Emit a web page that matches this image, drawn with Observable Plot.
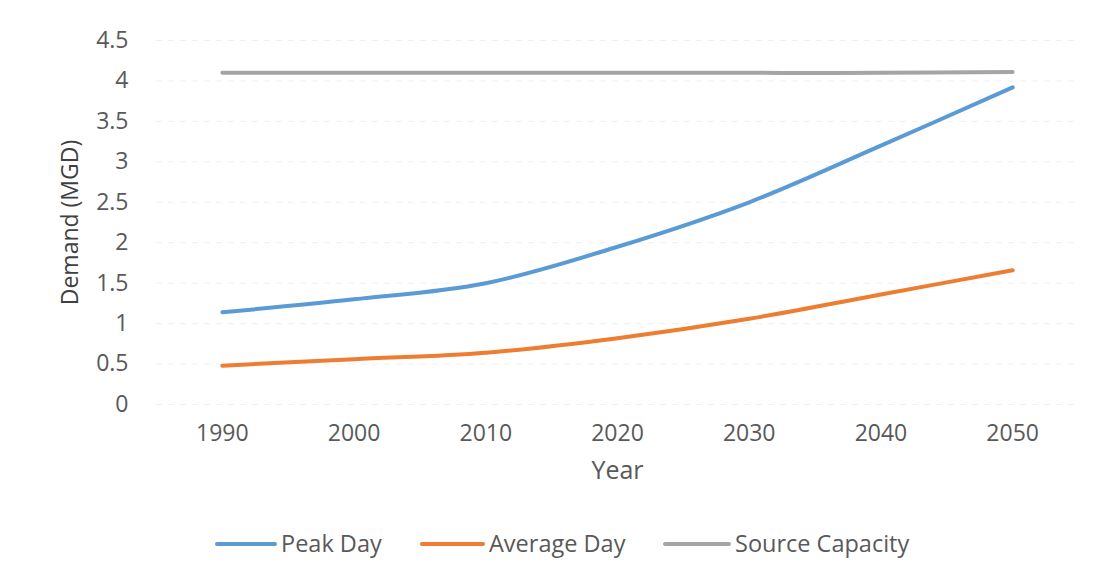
<!DOCTYPE html>
<html>
<head>
<meta charset="utf-8">
<script src="https://cdn.jsdelivr.net/npm/d3@7"></script>
<script src="https://cdn.jsdelivr.net/npm/@observablehq/plot@0.6"></script>
<style>
  body { margin: 0; background: #fff; font-family: "Open Sans", "Noto Sans", sans-serif; }
  #wrap { position: relative; width: 1099px; height: 575px; }
  #legend { position: absolute; top: 528px; left: 0; width: 1099px; height: 30px; }
  .item { position: absolute; top: 0; height: 30px; line-height: 30px; font-size: 23.5px; color: #595959; }
  .swatch { position: absolute; top: 14px; height: 4px; width: 60px; border-radius: 2px; }
</style>
</head>
<body>
<div id="wrap"><div id="chart"></div><div id="legend"></div></div>
<script>
const years = [1990, 2000, 2010, 2020, 2030, 2040, 2050];
const peakDay = [1.14, 1.30, 1.50, 1.95, 2.50, 3.20, 3.92];
const averageDay = [0.48, 0.56, 0.64, 0.82, 1.06, 1.36, 1.66];
const sourceCapacity = [4.1, 4.1, 4.1, 4.1, 4.1, 4.1, 4.11];
const yTicks = [0, 0.5, 1, 1.5, 2, 2.5, 3, 3.5, 4, 4.5];
const seriesNames = ["Peak Day", "Average Day", "Source Capacity"];
const seriesColors = ["#5B9BD5", "#ED7D31", "#A5A5A5"];

const seriesValues = [peakDay, averageDay, sourceCapacity];
const data = [];
seriesNames.forEach((name, i) => years.forEach((yr, j) => data.push({series: name, year: yr, value: seriesValues[i][j]})));

const chart = Plot.plot({
  width: 1099,
  height: 500,
  marginTop: 40,
  marginBottom: 96,
  marginLeft: 156,
  marginRight: 21,
  style: {fontFamily: "'Open Sans', 'Noto Sans', sans-serif", fontSize: "23px", color: "#595959", background: "transparent"},
  x: {domain: [1985, 2055], label: null},
  y: {domain: [0, 4.5], label: null},
  color: {domain: seriesNames, range: seriesColors},
  marks: [
    Plot.gridY(yTicks, {stroke: "#e6e6e6", strokeOpacity: 0.6, strokeDasharray: "6,6"}),
    Plot.axisX({ticks: years, tickFormat: d => String(d), tickSize: 0, tickPadding: 20, fontSize: 23, label: null}),
    Plot.axisY({ticks: yTicks, tickFormat: d => String(d), tickSize: 0, tickPadding: 28, fontSize: 23, label: null}),
    Plot.line(data, {x: "year", y: "value", z: "series", stroke: "series", strokeWidth: 4, curve: "catmull-rom"}),
    Plot.text(["Year"], {frameAnchor: "bottom", dy: 74, fontSize: 25, fill: "#595959"}),
    Plot.text(["Demand (MGD)"], {frameAnchor: "left", textAnchor: "middle", dx: -86, rotate: -90, fontSize: 23, fill: "#404040"})
  ]
});
document.getElementById("chart").appendChild(chart);

const legendPos = [[215, 281], [420, 489], [663, 735]];
const legend = document.getElementById("legend");
seriesNames.forEach((name, i) => {
  const sw = document.createElement("div");
  sw.className = "swatch";
  sw.style.left = legendPos[i][0] + "px";
  sw.style.width = (legendPos[i][1] - legendPos[i][0] - 4) + "px";
  sw.style.background = seriesColors[i];
  legend.appendChild(sw);
  const t = document.createElement("div");
  t.className = "item";
  t.style.left = legendPos[i][1] + "px";
  t.textContent = name;
  legend.appendChild(t);
});
</script>
</body>
</html>
